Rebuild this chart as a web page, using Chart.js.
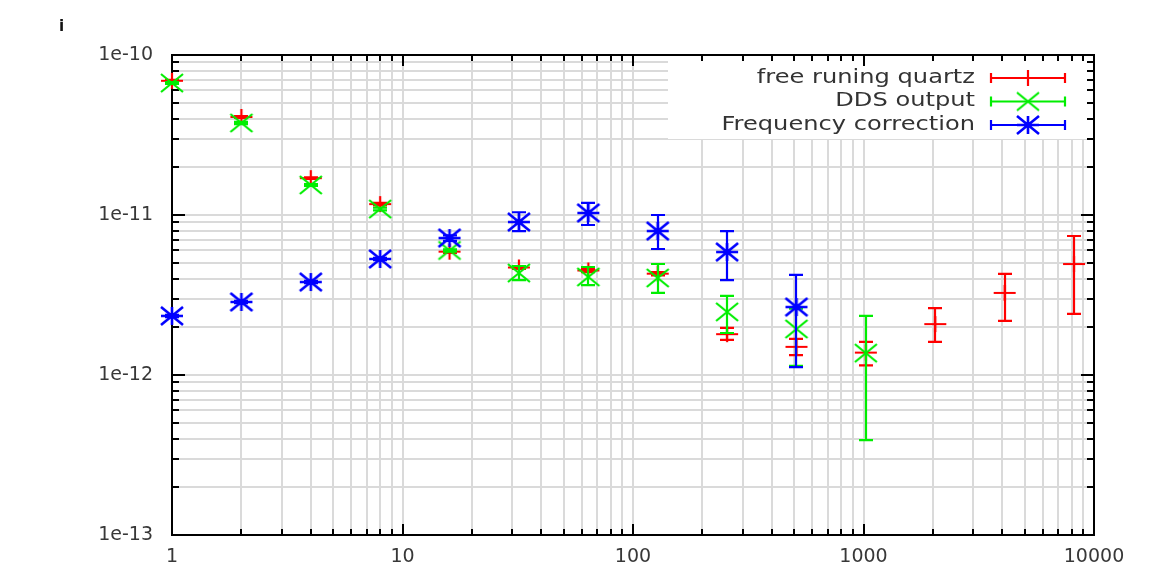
<!DOCTYPE html>
<html><head><meta charset="utf-8">
<script src="https://cdn.jsdelivr.net/npm/chart.js@4.4.0/dist/chart.umd.min.js"></script>
<style>html,body{margin:0;padding:0;background:#fff;}#wrap{width:1160px;height:567px;position:relative;}</style>
</head><body><div id="wrap"><canvas id="c" width="1160" height="567"></canvas></div>
<script>
// ---- data ----
const tau = [1,2,4,8,16,32,64,128,256,512,1024,2048,4096,8192];
const seriesNames = ['free runing quartz','DDS output','Frequency correction'];
const quartzVal = [6.9e-11,4.1e-11,1.7e-11,1.17e-11,5.9e-12,4.7e-12,4.5e-12,4.3e-12,1.8e-12,1.5e-12,1.38e-12,2.08e-12,3.26e-12,4.94e-12];
const quartzLo  = [6.8e-11,4.05e-11,1.68e-11,1.15e-11,5.8e-12,4.6e-12,4.4e-12,4.2e-12,1.66e-12,1.33e-12,1.15e-12,1.61e-12,2.18e-12,2.41e-12];
const quartzHi  = [7.0e-11,4.15e-11,1.72e-11,1.19e-11,6.0e-12,4.8e-12,4.6e-12,4.4e-12,1.97e-12,1.68e-12,1.61e-12,2.62e-12,4.28e-12,7.39e-12];
const ddsVal = [6.68e-11,3.76e-11,1.54e-11,1.09e-11,6.0e-12,4.34e-12,4.1e-12,4.04e-12,2.48e-12,1.94e-12,1.37e-12];
const ddsLo  = [6.6e-11,3.7e-11,1.52e-11,1.07e-11,5.9e-12,3.92e-12,3.65e-12,3.26e-12,1.83e-12,1.14e-12,3.92e-13];
const ddsHi  = [6.76e-11,3.82e-11,1.56e-11,1.11e-11,6.1e-12,4.8e-12,4.73e-12,4.94e-12,3.12e-12,2.6e-12,2.34e-12];
const corrVal = [2.34e-12,2.86e-12,3.81e-12,5.31e-12,7.18e-12,9.04e-12,1.03e-11,7.94e-12,5.87e-12,2.66e-12];
const corrLo  = [2.3e-12,2.81e-12,3.75e-12,5.22e-12,6.9e-12,7.94e-12,8.66e-12,6.13e-12,3.92e-12,1.12e-12];
const corrHi  = [2.38e-12,2.91e-12,3.87e-12,5.4e-12,7.45e-12,1.04e-11,1.19e-11,1.0e-11,7.94e-12,4.22e-12];
const xTickLabels = ['1','10','100','1000','10000'];
const yTickLabels = ['1e-13','1e-12','1e-11','1e-10'];
const strayText = 'i';

// ---- helpers ----
function pts(vals, lo, hi){ return vals.map((v,i)=>({x:tau[i], y:v, yMin:lo[i], yMax:hi[i]})); }
function withMinors(labels){
  const dec = labels.map(Number); const out=[];
  dec.forEach((d,i)=>{ out.push({value:d, major:true}); if(i<dec.length-1){ for(let k=2;k<=9;k++) out.push({value:d*k, major:false}); } });
  return out;
}
function labelFor(labels, v){
  for(const l of labels){ if(Math.abs(Math.log10(Number(l))-Math.log10(v))<1e-6) return l; }
  return '';
}
function makeMarker(type,color,w,h,lw){
  const c=document.createElement('canvas'); c.width=w+4; c.height=h+4;
  const g=c.getContext('2d'); g.strokeStyle=color; g.lineWidth=lw;
  const cx=c.width/2, cy=c.height/2, rx=w/2, ry=h/2;
  g.beginPath();
  if(type==='plus'||type==='star'){ g.moveTo(cx-rx,cy); g.lineTo(cx+rx,cy); g.moveTo(cx,cy-ry); g.lineTo(cx,cy+ry); }
  if(type==='x'||type==='star'){ g.moveTo(cx-rx,cy-ry); g.lineTo(cx+rx,cy+ry); g.moveTo(cx+rx,cy-ry); g.lineTo(cx-rx,cy+ry); }
  g.stroke(); return c;
}
const colors = ['#ff0000','#00ee00','#0000ff'];
const markers = [makeMarker('plus',colors[0],22,16,2.2), makeMarker('x',colors[1],22,18,2.2), makeMarker('star',colors[2],22,18,2.6)];

// ---- plugins ----
const errorBars = {
  id:'errorBars',
  beforeDatasetDraw(chart,args){
    const ds = chart.data.datasets[args.index];
    const xs = chart.scales.x, ys = chart.scales.y, ctx = chart.ctx;
    ctx.save(); ctx.strokeStyle = ds.borderColor; ctx.lineWidth = 2.2;
    ds.data.forEach(p=>{
      const x = Math.round(xs.getPixelForValue(p.x));
      const y1 = ys.getPixelForValue(p.yMin), y2 = ys.getPixelForValue(p.yMax);
      ctx.beginPath();
      ctx.moveTo(x,y1); ctx.lineTo(x,y2);
      ctx.moveTo(x-7,y1); ctx.lineTo(x+7,y1);
      ctx.moveTo(x-7,y2); ctx.lineTo(x+7,y2);
      ctx.stroke();
    });
    ctx.restore();
  }
};
const frame = {
  id:'frame',
  beforeDatasetsDraw(chart){
    const {ctx, chartArea:a} = chart; const xs=chart.scales.x, ys=chart.scales.y;
    ctx.save();
    ctx.fillStyle='#fff'; ctx.fillRect(668, a.top+1, a.right-668-1, 138-a.top);
    ctx.strokeStyle='#000'; ctx.lineWidth=2;
    ctx.beginPath();
    xs.ticks.forEach(t=>{
      const x=Math.round(xs.getPixelForValue(t.value)); const L=t.major?11:6;
      ctx.moveTo(x,a.bottom); ctx.lineTo(x,a.bottom-L);
      ctx.moveTo(x,a.top); ctx.lineTo(x,a.top+L);
    });
    ys.ticks.forEach(t=>{
      const y=Math.round(ys.getPixelForValue(t.value)); const L=t.major?13:7;
      ctx.moveTo(a.left,y); ctx.lineTo(a.left+L,y);
      ctx.moveTo(a.right,y); ctx.lineTo(a.right-L,y);
    });
    ctx.stroke();
    ctx.strokeRect(a.left, a.top, a.right-a.left, a.bottom-a.top);
    ctx.restore();
  },
  afterDraw(chart){
    const ctx=chart.ctx;
    ctx.save();
    ctx.fillStyle='#111'; ctx.font='bold 15px "DejaVu Sans"'; ctx.textBaseline='middle';
    ctx.fillText(strayText, 59, 27);
    chart.data.datasets.forEach((ds,i)=>{
      const y = 78 + i*23.5;
      ctx.save();
      ctx.fillStyle='#333'; ctx.font='19px "DejaVu Sans"'; ctx.textAlign='right'; ctx.textBaseline='middle';
      ctx.translate(975, y); ctx.scale(1.27,1); ctx.fillText(ds.label, 0, 0);
      ctx.restore();
      ctx.strokeStyle=ds.borderColor; ctx.lineWidth=2.2;
      ctx.beginPath();
      ctx.moveTo(991,y); ctx.lineTo(1065,y);
      ctx.moveTo(991,y-5); ctx.lineTo(991,y+5);
      ctx.moveTo(1065,y-5); ctx.lineTo(1065,y+5);
      ctx.stroke();
      const m = ds.pointStyle; ctx.drawImage(m, 1028-m.width/2, y-m.height/2);
    });
    ctx.restore();
  }
};

const fontTick = {family:'DejaVu Sans', size:19};
new Chart(document.getElementById('c'), {
  type:'scatter',
  data:{ datasets:[
    {label:seriesNames[0], data:pts(quartzVal,quartzLo,quartzHi), borderColor:colors[0], backgroundColor:colors[0], pointStyle:markers[0], order:3, clip:false},
    {label:seriesNames[1], data:pts(ddsVal,ddsLo,ddsHi), borderColor:colors[1], backgroundColor:colors[1], pointStyle:markers[1], order:2, clip:false},
    {label:seriesNames[2], data:pts(corrVal,corrLo,corrHi), borderColor:colors[2], backgroundColor:colors[2], pointStyle:markers[2], order:1, clip:false}
  ]},
  options:{
    responsive:false, animation:false, events:[],
    layout:{padding:{left:0, top:55, right:66, bottom:0}},
    plugins:{legend:{display:false}, tooltip:{enabled:false}},
    scales:{
      x:{type:'logarithmic', min:1, max:10000,
        afterBuildTicks:s=>{ s.ticks = withMinors(xTickLabels); },
        afterFit:s=>{ s.height = 32; },
        grid:{color:'#dadada', lineWidth:2, drawTicks:false},
        border:{display:false},
        ticks:{autoSkip:false, maxRotation:0, padding:11, color:'#383838', font:fontTick, callback:v=>labelFor(xTickLabels,v)}
      },
      y:{type:'logarithmic', min:1e-13, max:1e-10,
        afterBuildTicks:s=>{ s.ticks = withMinors(yTickLabels); },
        afterFit:s=>{ s.width = 172; },
        grid:{color:'#dadada', lineWidth:2, drawTicks:false},
        border:{display:false},
        ticks:{autoSkip:false, padding:19, color:'#383838', font:fontTick, callback:v=>labelFor(yTickLabels,v)}
      }
    }
  },
  plugins:[errorBars, frame]
});
</script></body></html>
